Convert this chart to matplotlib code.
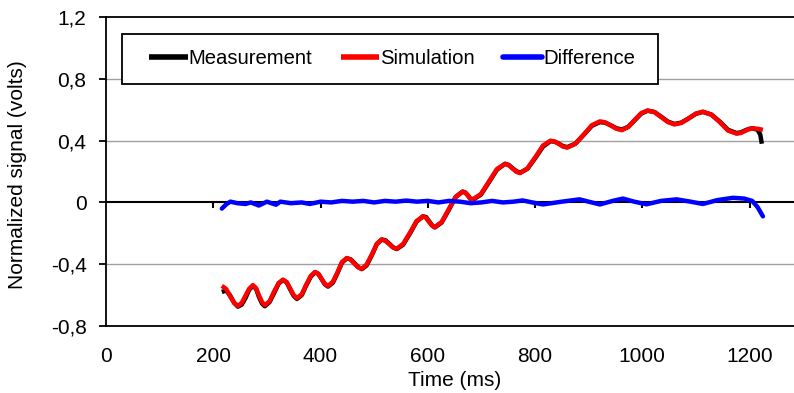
import matplotlib
matplotlib.use('Agg')
import matplotlib.pyplot as plt
import matplotlib.patches

plt.rcParams['font.family'] = ['Liberation Sans', 'DejaVu Sans']

# simulation (red)
sim_t = [216, 224, 231, 239, 246, 253, 260, 267, 274, 280, 285, 291, 296, 305, 313,
         322, 330, 337, 343, 350, 356, 365, 373, 382, 390, 396, 402, 408, 414, 423,
         432, 440, 449, 456, 463, 470, 477, 486, 496, 505, 514, 521, 528, 535, 542,
         554, 567, 579, 591, 597, 602, 608, 613, 626, 639, 652, 665, 670, 675, 679,
         684, 699, 714, 729, 744, 751, 758, 765, 772, 786, 801, 815, 829, 837, 845,
         852, 860, 875, 891, 906, 921, 931, 942, 952, 962, 974, 986, 998, 1010, 1023,
         1035, 1048, 1060, 1073, 1087, 1100, 1113, 1129, 1145, 1160, 1176, 1184, 1191,
         1199, 1206, 1215, 1225]
sim_v = [-0.54, -0.56, -0.605, -0.65, -0.67, -0.651, -0.605, -0.559, -0.535, -0.556,
         -0.60, -0.645, -0.665, -0.64, -0.58, -0.522, -0.50, -0.516, -0.555, -0.60,
         -0.62, -0.595, -0.535, -0.475, -0.45, -0.463, -0.495, -0.527, -0.54, -0.514,
         -0.45, -0.386, -0.36, -0.37, -0.395, -0.42, -0.43, -0.402, -0.335, -0.268,
         -0.24, -0.249, -0.27, -0.291, -0.30, -0.269, -0.195, -0.121, -0.09, -0.10,
         -0.125, -0.15, -0.16, -0.126, -0.045, 0.036, 0.07, 0.063, 0.045, 0.027,
         0.02, 0.054, 0.135, 0.216, 0.25, 0.241, 0.22, 0.199, 0.19, 0.221,
         0.295, 0.369, 0.40, 0.393, 0.378, 0.362, 0.355, 0.379, 0.44, 0.50,
         0.525, 0.518, 0.497, 0.477, 0.468, 0.489, 0.535, 0.578, 0.595, 0.585,
         0.553, 0.52, 0.505, 0.515, 0.545, 0.575, 0.588, 0.568, 0.518, 0.465,
         0.445, 0.45, 0.462, 0.474, 0.48, 0.477, 0.47]

# measurement (black)
meas_t = [216, 224, 231, 239, 246, 253, 260, 267, 274, 280, 285, 291, 296, 305, 313,
          322, 330, 337, 343, 350, 356, 365, 373, 382, 390, 396, 402, 408, 414, 423,
          432, 440, 449, 456, 463, 470, 477, 486, 496, 505, 514, 521, 528, 535, 542,
          554, 567, 579, 591, 597, 602, 608, 613, 626, 639, 652, 665, 670, 675, 679,
          684, 699, 714, 729, 744, 751, 758, 765, 772, 786, 801, 815, 829, 837, 845,
          852, 860, 875, 891, 906, 921, 931, 942, 952, 962, 974, 986, 998, 1010, 1023,
          1035, 1048, 1060, 1073, 1087, 1100, 1113, 1129, 1145, 1160, 1176, 1184, 1191,
          1199, 1206, 1215, 1220, 1223]
meas_v = [-0.58, -0.57, -0.60, -0.65, -0.675, -0.662, -0.62, -0.565, -0.54, -0.56,
          -0.61, -0.655, -0.672, -0.645, -0.59, -0.525, -0.502, -0.518, -0.56, -0.605,
          -0.625, -0.60, -0.54, -0.48, -0.452, -0.462, -0.495, -0.53, -0.545, -0.52,
          -0.455, -0.39, -0.362, -0.368, -0.392, -0.418, -0.432, -0.408, -0.34, -0.27,
          -0.24, -0.245, -0.266, -0.29, -0.302, -0.274, -0.2, -0.125, -0.09, -0.095,
          -0.12, -0.148, -0.162, -0.13, -0.05, 0.035, 0.07, 0.064, 0.045, 0.025,
          0.017, 0.05, 0.13, 0.212, 0.25, 0.243, 0.222, 0.203, 0.192, 0.218,
          0.29, 0.362, 0.397, 0.393, 0.38, 0.365, 0.358, 0.38, 0.438, 0.496,
          0.52, 0.516, 0.498, 0.48, 0.472, 0.49, 0.532, 0.575, 0.594, 0.585,
          0.556, 0.523, 0.508, 0.517, 0.545, 0.574, 0.586, 0.569, 0.522, 0.47,
          0.449, 0.454, 0.465, 0.476, 0.48, 0.47, 0.44, 0.38]

# difference (blue)
diff_t = [216, 225, 232, 245, 260, 270, 285, 300, 317, 325, 345, 365, 380, 400, 420,
          440, 460, 480, 500, 520, 540, 560, 580, 600, 620, 640, 660, 680, 700, 720,
          740, 760, 777, 795, 815, 850, 883, 900, 921, 945, 964, 985, 1008, 1035, 1064,
          1090, 1113, 1140, 1169, 1190, 1205, 1215, 1225]
diff_v = [-0.04, -0.01, 0.005, -0.005, -0.01, 0.0, -0.02, 0.005, -0.015, 0.005,
          -0.005, 0.0, -0.01, 0.005, 0.0, 0.01, 0.005, 0.01, 0.0, 0.01,
          0.005, 0.012, 0.005, 0.01, 0.0, 0.01, 0.005, -0.005, 0.0, 0.01,
          0.0, 0.005, 0.013, 0.0, -0.013, 0.005, 0.02, 0.005, -0.013, 0.01,
          0.025, 0.005, -0.012, 0.01, 0.02, 0.005, -0.01, 0.015, 0.03, 0.025,
          0.01, -0.03, -0.09]

x_ticks = [0, 200, 400, 600, 800, 1000, 1200]
y_ticks = [-0.8, -0.4, 0, 0.4, 0.8, 1.2]
y_labels = ['-0,8', '-0,4', '0', '0,4', '0,8', '1,2']


def main():
    fig = plt.figure(figsize=(7.94, 3.93), dpi=100)
    ax = fig.add_axes([0.1335, 0.1705, 0.878, 0.786])

    ax.set_xlim(0, 1300)
    ax.set_ylim(-0.8, 1.2)

    for y in [-0.4, 0.4, 0.8]:
        ax.axhline(y, color='#a0a0a0', lw=1.0, zorder=1)
    ax.axhline(0, color='black', lw=1.5, zorder=2)
    ax.vlines(x_ticks[1:], -0.037, 0, color='black', lw=1.5, zorder=2)

    ax.plot(meas_t, meas_v, color='black', lw=3.2, label='Measurement', zorder=3,
            solid_capstyle='butt')
    ax.plot(sim_t, sim_v, color='#ff0000', lw=3.2, label='Simulation', zorder=4,
            solid_capstyle='butt')
    ax.plot(diff_t, diff_v, color='#0000ff', lw=3.2, label='Difference', zorder=5,
            solid_capstyle='round')

    for s in ['top', 'left', 'bottom']:
        ax.spines[s].set_linewidth(1.3)
        ax.spines[s].set_color('black')
    ax.spines['right'].set_visible(False)

    ax.set_xticks(x_ticks)
    ax.set_yticks(y_ticks)
    ax.set_yticklabels(y_labels)
    ax.tick_params(axis='x', length=0, pad=15, labelsize=15)
    ax.tick_params(axis='y', length=5, width=1.3, direction='out', pad=9, labelsize=15)

    ax.set_xlabel('Time (ms)', fontsize=15)
    ax.set_ylabel('Normalized signal (volts)', fontsize=15)
    ax.xaxis.set_label_coords(0.50, -0.145)
    ax.yaxis.set_label_coords(-0.113, 0.49)

    # legend box drawn separately so the inner padding can match
    fig.patches.append(matplotlib.patches.Rectangle(
        (122 / 794, 1 - 84 / 393), 536 / 794, 50 / 393, transform=fig.transFigure,
        facecolor='white', edgecolor='black', lw=1.3, zorder=6))
    handles, labels = ax.get_legend_handles_labels()
    leg = fig.legend(handles, labels, loc='center left',
                     bbox_to_anchor=(149 / 794, 1 - 59 / 393),
                     ncol=3, fontsize=14.6, handlelength=1.9, handletextpad=0.05,
                     columnspacing=1.4, borderpad=0, borderaxespad=0, frameon=False)
    leg.set_zorder(7)
    for line in leg.get_lines():
        line.set_linewidth(4)

    fig.savefig('out.png', dpi=100)
    plt.close('all')


if __name__ == '__main__':
    main()
